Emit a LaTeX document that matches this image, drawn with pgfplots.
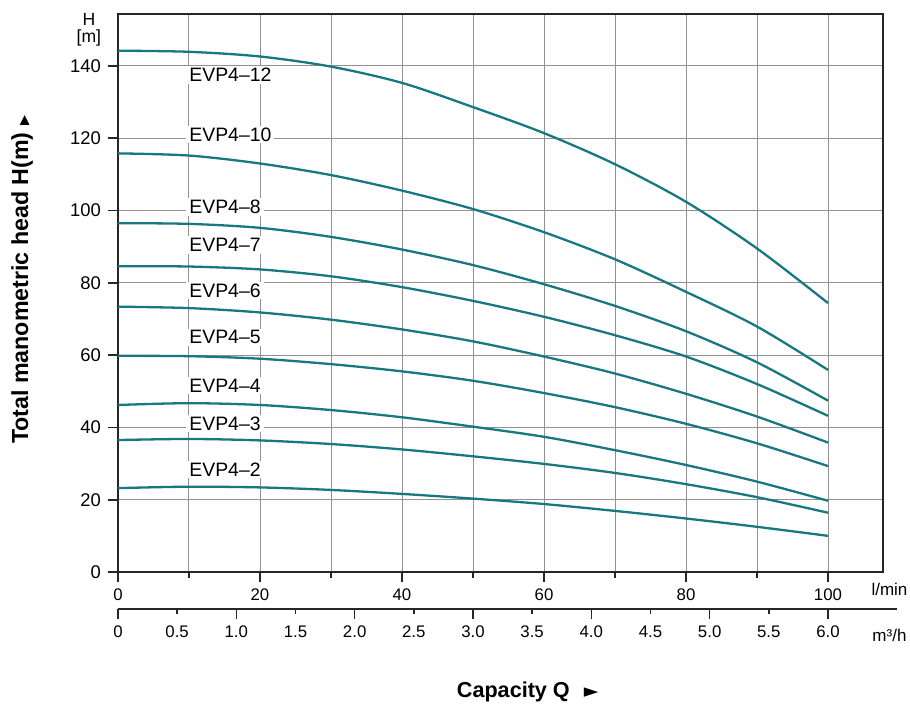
\documentclass[border=0pt]{standalone}
\usepackage{fontspec}
\setmainfont{Liberation Sans}
\newfontfamily\symfont{DejaVu Sans}
\usepackage{pgfplots}
\pgfplotsset{compat=1.18}
\definecolor{curve}{RGB}{24,120,128}
\definecolor{gridgray}{RGB}{145,145,145}
\tikzset{
  evp/.style={anchor=west, fill=white, inner xsep=1.5pt, inner ysep=1pt,
    xshift=-1.5pt, font=\fontsize{9.7}{11}\selectfont},
  pc/.style={draw=curve, line width=1.15pt, smooth, tension=0.5, mark=none},
}

\begin{document}
\begin{tikzpicture}
% page size: 910x706 px at 0.5pt per px
\path[use as bounding box] (-59pt,-67pt) rectangle (396pt,286pt);
\begin{axis}[
  name=ax,
  x=3.55pt, y=1.8075pt,
  xmin=0, xmax=107.746, ymin=0, ymax=154.36,
  xtick={0,20,...,100}, minor xtick={10,30,...,90},
  ytick={0,20,...,140},
  xmajorgrids, xminorgrids, ymajorgrids,
  grid style={gridgray, line width=0.5pt},
  tick pos=left, tick align=outside,
  major tick length=5pt, minor tick length=3pt,
  axis line style={line width=1pt, black!85},
  tick style={black!85, line width=0.8pt},
  xticklabel style={font=\fontsize{8.4}{10}\selectfont},
  yticklabel style={font=\fontsize{9.2}{10}\selectfont},
  /pgf/number format/assume math mode=true,
  clip=false,
]
% EVP4-12
\addplot[pc] coordinates {(0,144.2) (10,143.9) (20,142.6) (30,139.8) (40,135.3) (50,128.6) (60,121.4) (70,112.8) (80,102.4) (90,89.5) (100,74.4)};
% EVP4-10
\addplot[pc] coordinates {(0,115.8) (10,115.2) (20,113.0) (30,109.8) (40,105.5) (50,100.4) (60,94.0) (70,86.5) (80,77.5) (90,67.9) (100,55.9)};
% EVP4-8
\addplot[pc] coordinates {(0,96.5) (10,96.3) (20,95.2) (30,92.7) (40,89.2) (50,84.9) (60,79.6) (70,73.6) (80,66.6) (90,58.0) (100,47.4)};
% EVP4-7
\addplot[pc] coordinates {(0,84.6) (10,84.5) (20,83.7) (30,81.8) (40,78.8) (50,75.0) (60,70.6) (70,65.5) (80,59.6) (90,52.0) (100,43.2)};
% EVP4-6
\addplot[pc] coordinates {(0,73.4) (10,73.0) (20,71.8) (30,69.8) (40,67.1) (50,63.8) (60,59.6) (70,54.9) (80,49.3) (90,43.0) (100,35.8)};
% EVP4-5
\addplot[pc] coordinates {(0,59.8) (10,59.7) (20,59.0) (30,57.5) (40,55.5) (50,52.9) (60,49.5) (70,45.6) (80,41.0) (90,35.6) (100,29.3)};
% EVP4-4
\addplot[pc] coordinates {(0,46.2) (10,46.7) (20,46.2) (30,44.8) (40,42.8) (50,40.2) (60,37.4) (70,33.7) (80,29.6) (90,25.0) (100,19.7)};
% EVP4-3
\addplot[pc] coordinates {(0,36.5) (10,36.8) (20,36.4) (30,35.4) (40,33.9) (50,32.0) (60,29.9) (70,27.4) (80,24.3) (90,20.7) (100,16.4)};
% EVP4-2
\addplot[pc] coordinates {(0,23.2) (10,23.6) (20,23.4) (30,22.7) (40,21.6) (50,20.3) (60,18.8) (70,16.9) (80,14.8) (90,12.5) (100,10.0)};

\node[evp] at (axis cs:10,137.5) {EVP4--12};
\node[evp] at (axis cs:10,121.0) {EVP4--10};
\node[evp] at (axis cs:10,101.0) {EVP4--8};
\node[evp] at (axis cs:10,90.5) {EVP4--7};
\node[evp] at (axis cs:10,77.9) {EVP4--6};
\node[evp] at (axis cs:10,64.9) {EVP4--5};
\node[evp] at (axis cs:10,51.6) {EVP4--4};
\node[evp] at (axis cs:10,41.1) {EVP4--3};
\node[evp] at (axis cs:10,28.4) {EVP4--2};

\node[font=\fontsize{8.8}{8.6}\selectfont, align=center] at (axis cs:-4.1,149.9) {H\\{[m]}};
\node[font=\fontsize{8.5}{10}\selectfont] at (axis cs:108.66,-4.9) {l/min};
\node[font=\fontsize{8.5}{10}\selectfont] at (axis cs:108.66,-17.6) {m³/h};
\node[rotate=90, font=\bfseries\fontsize{11.6}{12}\selectfont] at (axis cs:-13.5,80.8)
  {Total manometric head H(m) {\symfont\fontsize{6.5}{7}\selectfont ▶}};
\node[font=\bfseries\fontsize{10.8}{12}\selectfont] at (axis cs:57.7,-33.2)
  {Capacity Q\hspace{7pt}{\symfont\fontsize{9.5}{10}\selectfont ►}};
\end{axis}

% second capacity scale in m3/h
\begin{axis}[
  at={(0pt,-18.75pt)}, anchor=south west,
  x=59.1667pt, y=1pt,
  xmin=0, xmax=6.583, ymin=0, ymax=1,
  axis x line=bottom, axis y line=none,
  axis line style={-, line width=1pt, black!85},
  xtick={0,0.5,...,6},
  xticklabels={0,0.5,1.0,1.5,2.0,2.5,3.0,3.5,4.0,4.5,5.0,5.5,6.0},
  extra x ticks={0,1,...,6}, extra x tick labels={},
  extra x tick style={major tick length=5pt},
  major tick length=2.5pt,
  tick align=outside,
  tick style={black!85, line width=0.8pt},
  xticklabel style={font=\fontsize{8.4}{10}\selectfont, yshift=-2pt},
]
\addplot[draw=none] coordinates {(0,0) (6,0)};
\end{axis}
\end{tikzpicture}
\end{document}
